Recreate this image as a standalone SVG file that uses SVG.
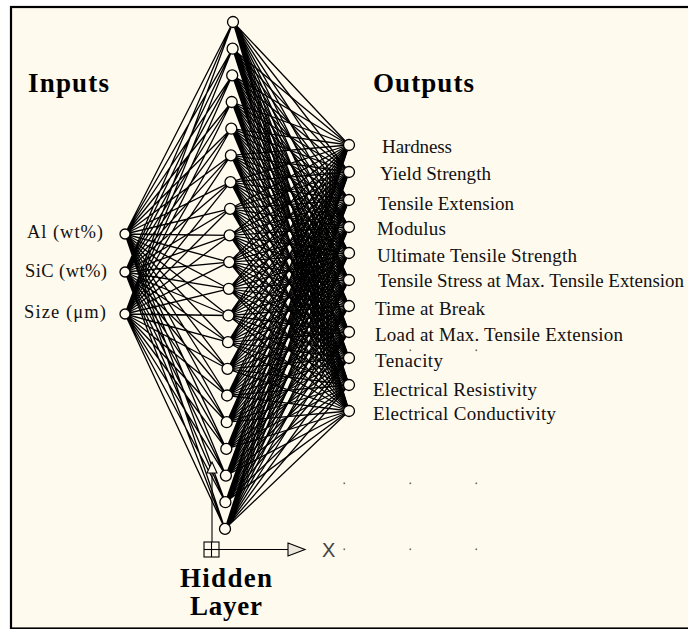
<svg xmlns="http://www.w3.org/2000/svg" width="688" height="629" viewBox="0 0 688 629">
<style>
.lbl{font-family:"Liberation Serif","Times New Roman",serif;font-size:19px;fill:#111}
.in{font-family:"Liberation Serif","Times New Roman",serif;font-size:18.5px;fill:#111}
.ttl{font-family:"Liberation Serif","Times New Roman",serif;font-weight:bold;font-size:27px;fill:#000}
.node{fill:#fffaee;stroke:#000;stroke-width:1.3}
.dot{fill:#666}
</style>
<rect x="0" y="0" width="688" height="629" fill="#ffffff"/>
<rect x="11" y="7" width="690" height="621.5" fill="#fffaee" stroke="#000" stroke-width="2.2"/>
<g id="connectors" fill="none" stroke="#000" stroke-width="1.3" stroke-linejoin="round">
<path d="M125 234L233 22L125 272M125 314L233 22M125 234L232.6 48.7L125 272M125 314L232.6 48.7M125 234L232.2 75.4L125 272M125 314L232.2 75.4M125 234L231.7 102L125 272M125 314L231.7 102M125 234L231.3 128.7L125 272M125 314L231.3 128.7M125 234L230.9 155.4L125 272M125 314L230.9 155.4M125 234L230.5 182.1L125 272M125 314L230.5 182.1M125 234L230.1 208.8L125 272M125 314L230.1 208.8M125 234L229.6 235.4L125 272M125 314L229.6 235.4M125 234L229.2 262.1L125 272M125 314L229.2 262.1M125 234L228.8 288.8L125 272M125 314L228.8 288.8M125 234L228.4 315.5L125 272M125 314L228.4 315.5M125 234L228 342.2L125 272M125 314L228 342.2M125 234L227.5 368.8L125 272M125 314L227.5 368.8M125 234L227.1 395.5L125 272M125 314L227.1 395.5M125 234L226.7 422.2L125 272M125 314L226.7 422.2M125 234L226.3 448.9L125 272M125 314L226.3 448.9M125 234L225.9 475.6L125 272M125 314L225.9 475.6M125 234L225.4 502.2L125 272M125 314L225.4 502.2M125 234L225 528.9L125 272M125 314L225 528.9"/>
<path d="M349 145L233 22L349 172M349 200L233 22L349 227M349 253L233 22L349 280M349 306L233 22L349 332M349 358L233 22L349 385M349 411L233 22"/>
<path d="M349 145L232.6 48.7L349 172M349 200L232.6 48.7L349 227M349 253L232.6 48.7L349 280M349 306L232.6 48.7L349 332M349 358L232.6 48.7L349 385M349 411L232.6 48.7"/>
<path d="M349 145L232.2 75.4L349 172M349 200L232.2 75.4L349 227M349 253L232.2 75.4L349 280M349 306L232.2 75.4L349 332M349 358L232.2 75.4L349 385M349 411L232.2 75.4"/>
<path d="M349 145L231.7 102L349 172M349 200L231.7 102L349 227M349 253L231.7 102L349 280M349 306L231.7 102L349 332M349 358L231.7 102L349 385M349 411L231.7 102"/>
<path d="M349 145L231.3 128.7L349 172M349 200L231.3 128.7L349 227M349 253L231.3 128.7L349 280M349 306L231.3 128.7L349 332M349 358L231.3 128.7L349 385M349 411L231.3 128.7"/>
<path d="M349 145L230.9 155.4L349 172M349 200L230.9 155.4L349 227M349 253L230.9 155.4L349 280M349 306L230.9 155.4L349 332M349 358L230.9 155.4L349 385M349 411L230.9 155.4"/>
<path d="M349 145L230.5 182.1L349 172M349 200L230.5 182.1L349 227M349 253L230.5 182.1L349 280M349 306L230.5 182.1L349 332M349 358L230.5 182.1L349 385M349 411L230.5 182.1"/>
<path d="M349 145L230.1 208.8L349 172M349 200L230.1 208.8L349 227M349 253L230.1 208.8L349 280M349 306L230.1 208.8L349 332M349 358L230.1 208.8L349 385M349 411L230.1 208.8"/>
<path d="M349 145L229.6 235.4L349 172M349 200L229.6 235.4L349 227M349 253L229.6 235.4L349 280M349 306L229.6 235.4L349 332M349 358L229.6 235.4L349 385M349 411L229.6 235.4"/>
<path d="M349 145L229.2 262.1L349 172M349 200L229.2 262.1L349 227M349 253L229.2 262.1L349 280M349 306L229.2 262.1L349 332M349 358L229.2 262.1L349 385M349 411L229.2 262.1"/>
<path d="M349 145L228.8 288.8L349 172M349 200L228.8 288.8L349 227M349 253L228.8 288.8L349 280M349 306L228.8 288.8L349 332M349 358L228.8 288.8L349 385M349 411L228.8 288.8"/>
<path d="M349 145L228.4 315.5L349 172M349 200L228.4 315.5L349 227M349 253L228.4 315.5L349 280M349 306L228.4 315.5L349 332M349 358L228.4 315.5L349 385M349 411L228.4 315.5"/>
<path d="M349 145L228 342.2L349 172M349 200L228 342.2L349 227M349 253L228 342.2L349 280M349 306L228 342.2L349 332M349 358L228 342.2L349 385M349 411L228 342.2"/>
<path d="M349 145L227.5 368.8L349 172M349 200L227.5 368.8L349 227M349 253L227.5 368.8L349 280M349 306L227.5 368.8L349 332M349 358L227.5 368.8L349 385M349 411L227.5 368.8"/>
<path d="M349 145L227.1 395.5L349 172M349 200L227.1 395.5L349 227M349 253L227.1 395.5L349 280M349 306L227.1 395.5L349 332M349 358L227.1 395.5L349 385M349 411L227.1 395.5"/>
<path d="M349 145L226.7 422.2L349 172M349 200L226.7 422.2L349 227M349 253L226.7 422.2L349 280M349 306L226.7 422.2L349 332M349 358L226.7 422.2L349 385M349 411L226.7 422.2"/>
<path d="M349 145L226.3 448.9L349 172M349 200L226.3 448.9L349 227M349 253L226.3 448.9L349 280M349 306L226.3 448.9L349 332M349 358L226.3 448.9L349 385M349 411L226.3 448.9"/>
<path d="M349 145L225.9 475.6L349 172M349 200L225.9 475.6L349 227M349 253L225.9 475.6L349 280M349 306L225.9 475.6L349 332M349 358L225.9 475.6L349 385M349 411L225.9 475.6"/>
<path d="M349 145L225.4 502.2L349 172M349 200L225.4 502.2L349 227M349 253L225.4 502.2L349 280M349 306L225.4 502.2L349 332M349 358L225.4 502.2L349 385M349 411L225.4 502.2"/>
<path d="M349 145L225 528.9L349 172M349 200L225 528.9L349 227M349 253L225 528.9L349 280M349 306L225 528.9L349 332M349 358L225 528.9L349 385M349 411L225 528.9"/>
</g>
<g id="axis" fill="none" stroke="#000" stroke-width="1.1">
<line x1="212" y1="542" x2="212" y2="473"/>
<polygon points="207,473 212,462 217,473" fill="#fffaee"/>
<rect x="204" y="542" width="15" height="15"/>
<line x1="211.5" y1="542" x2="211.5" y2="557"/>
<line x1="204" y1="549.5" x2="219" y2="549.5"/>
<line x1="219" y1="549.5" x2="288" y2="549.5"/>
<polygon points="288,543 305,549.5 288,556" fill="#ebe7dc"/>
</g>
<text x="322" y="557" font-family="Liberation Sans, Arial, sans-serif" font-size="20" fill="#444">X</text>
<g id="grid">
<rect class="dot" x="409.5" y="349.5" width="1.6" height="1.6"/>
<rect class="dot" x="475.5" y="349.5" width="1.6" height="1.6"/>
<rect class="dot" x="343.5" y="482.5" width="1.6" height="1.6"/>
<rect class="dot" x="409.5" y="482.5" width="1.6" height="1.6"/>
<rect class="dot" x="475.5" y="482.5" width="1.6" height="1.6"/>
<rect class="dot" x="343.5" y="548.5" width="1.6" height="1.6"/>
<rect class="dot" x="409.5" y="548.5" width="1.6" height="1.6"/>
<rect class="dot" x="475.5" y="548.5" width="1.6" height="1.6"/>
</g>
<g id="inputs">
<circle class="node" cx="125" cy="234" r="5"/>
<circle class="node" cx="125" cy="272" r="5"/>
<circle class="node" cx="125" cy="314" r="5"/>
<text class="in" x="27" y="238" textLength="76" lengthAdjust="spacing">Al (wt%)</text>
<text class="in" x="25" y="277" textLength="82" lengthAdjust="spacing">SiC (wt%)</text>
<text class="in" x="24" y="318" textLength="82" lengthAdjust="spacing">Size (μm)</text>
</g>
<g id="hidden">
<circle class="node" cx="233" cy="22" r="5.5"/>
<circle class="node" cx="232.6" cy="48.7" r="5.5"/>
<circle class="node" cx="232.2" cy="75.4" r="5.5"/>
<circle class="node" cx="231.7" cy="102" r="5.5"/>
<circle class="node" cx="231.3" cy="128.7" r="5.5"/>
<circle class="node" cx="230.9" cy="155.4" r="5.5"/>
<circle class="node" cx="230.5" cy="182.1" r="5.5"/>
<circle class="node" cx="230.1" cy="208.8" r="5.5"/>
<circle class="node" cx="229.6" cy="235.4" r="5.5"/>
<circle class="node" cx="229.2" cy="262.1" r="5.5"/>
<circle class="node" cx="228.8" cy="288.8" r="5.5"/>
<circle class="node" cx="228.4" cy="315.5" r="5.5"/>
<circle class="node" cx="228" cy="342.2" r="5.5"/>
<circle class="node" cx="227.5" cy="368.8" r="5.5"/>
<circle class="node" cx="227.1" cy="395.5" r="5.5"/>
<circle class="node" cx="226.7" cy="422.2" r="5.5"/>
<circle class="node" cx="226.3" cy="448.9" r="5.5"/>
<circle class="node" cx="225.9" cy="475.6" r="5.5"/>
<circle class="node" cx="225.4" cy="502.2" r="5.5"/>
<circle class="node" cx="225" cy="528.9" r="5.5"/>
</g>
<g id="outputs">
<circle class="node" cx="349" cy="145" r="5.5"/>
<circle class="node" cx="349" cy="172" r="5.5"/>
<circle class="node" cx="349" cy="200" r="5.5"/>
<circle class="node" cx="349" cy="227" r="5.5"/>
<circle class="node" cx="349" cy="253" r="5.5"/>
<circle class="node" cx="349" cy="280" r="5.5"/>
<circle class="node" cx="349" cy="306" r="5.5"/>
<circle class="node" cx="349" cy="332" r="5.5"/>
<circle class="node" cx="349" cy="358" r="5.5"/>
<circle class="node" cx="349" cy="385" r="5.5"/>
<circle class="node" cx="349" cy="411" r="5.5"/>
<text class="lbl" x="382" y="153" textLength="70" lengthAdjust="spacing">Hardness</text>
<text class="lbl" x="380" y="180" textLength="111" lengthAdjust="spacing">Yield Strength</text>
<text class="lbl" x="378" y="210" textLength="136" lengthAdjust="spacing">Tensile Extension</text>
<text class="lbl" x="377" y="235" textLength="69" lengthAdjust="spacing">Modulus</text>
<text class="lbl" x="377" y="262" textLength="200" lengthAdjust="spacing">Ultimate Tensile Strength</text>
<text class="lbl" x="378" y="287" textLength="306" lengthAdjust="spacingAndGlyphs">Tensile Stress at Max. Tensile Extension</text>
<text class="lbl" x="375" y="315" textLength="110" lengthAdjust="spacing">Time at Break</text>
<text class="lbl" x="375" y="341" textLength="248" lengthAdjust="spacing">Load at Max. Tensile Extension</text>
<text class="lbl" x="375" y="367" textLength="68" lengthAdjust="spacing">Tenacity</text>
<text class="lbl" x="373" y="396" textLength="164" lengthAdjust="spacing">Electrical Resistivity</text>
<text class="lbl" x="373" y="420" textLength="183" lengthAdjust="spacing">Electrical Conductivity</text>
</g>
<g id="titles">
<text class="ttl" x="28" y="92" textLength="81" lengthAdjust="spacing">Inputs</text>
<text class="ttl" x="373" y="92" textLength="101" lengthAdjust="spacing">Outputs</text>
<text class="ttl" x="180" y="587" textLength="92" lengthAdjust="spacing">Hidden</text>
<text class="ttl" x="190" y="615" textLength="72" lengthAdjust="spacing">Layer</text>
</g>
</svg>
